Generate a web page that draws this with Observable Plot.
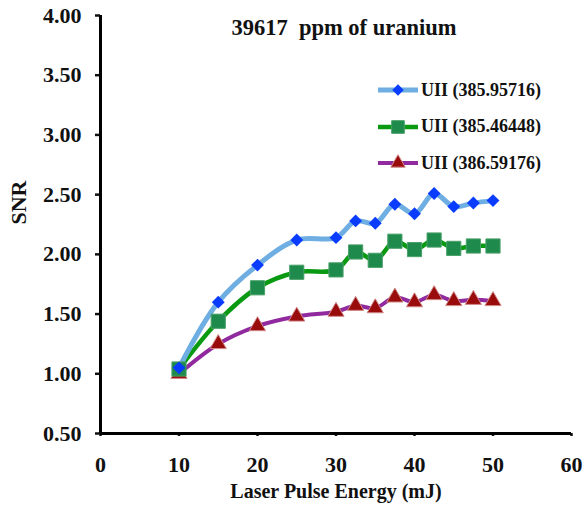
<!DOCTYPE html>
<html>
<head>
<meta charset="utf-8">
<script src="https://cdn.jsdelivr.net/npm/d3@7"></script>
<script src="https://cdn.jsdelivr.net/npm/@observablehq/plot@0.6"></script>
<style>
  html, body { margin: 0; padding: 0; background: #fff; }
  #wrap { position: relative; width: 584px; height: 513px; font-family: "Liberation Serif", "Times New Roman", serif; font-weight: bold; }
  #title { position: absolute; left: 0; width: 688px; top: 15px; text-align: center; font-size: 22.5px; white-space: pre; color: #111; }
  #legend { position: absolute; left: 377px; top: 72px; }
  .item { display: flex; align-items: center; height: 36.5px; font-size: 18px; color: #111; white-space: nowrap; }
  .item svg { margin-right: 2px; }
</style>
</head>
<body>
<div id="wrap">
  <div id="chart"></div>
  <div id="title"></div>
  <div id="legend"></div>
</div>
<script>
// ---- data ----
const titleText = "39617  ppm of uranium";
const energy = [10, 15, 20, 25, 30, 32.5, 35, 37.5, 40, 42.5, 45, 47.5, 50];
const seriesNames = ["UII (385.95716)", "UII (385.46448)", "UII (386.59176)"];
const snr385_95716 = [1.05, 1.60, 1.91, 2.12, 2.14, 2.28, 2.26, 2.42, 2.34, 2.51, 2.40, 2.43, 2.45];
const snr385_46448 = [1.04, 1.44, 1.72, 1.85, 1.87, 2.02, 1.95, 2.11, 2.04, 2.12, 2.05, 2.07, 2.07];
const snr386_59176 = [1.00, 1.25, 1.40, 1.48, 1.52, 1.57, 1.55, 1.64, 1.60, 1.66, 1.61, 1.62, 1.61];
const yTicks = [0.5, 1.0, 1.5, 2.0, 2.5, 3.0, 3.5, 4.0];
const xTicks = [0, 10, 20, 30, 40, 50, 60];
const xLabel = "Laser Pulse Energy (mJ)";
const yLabel = "SNR";

// ---- styles ----
const styles = [
  {line: "#6eaee2", lineW: 5, sym: "diamond2", fill: "#0a3cff", stroke: "none", r: 5.8},
  {line: "#0a9a12", lineW: 4.5, sym: "square", fill: "#1e8a4c", stroke: "#4aa06a", r: 8},
  {line: "#902a9e", lineW: 4, sym: "triangle", fill: "#9a0c0c", stroke: "#d08a8a", r: 6}
];
const values = [snr385_95716, snr385_46448, snr386_59176];

const rows = [];
values.forEach((vals, s) => vals.forEach((v, i) => rows.push({s, name: seriesNames[s], x: energy[i], y: v})));

const marks = [];
[2, 1, 0].forEach(s => {
  const st = styles[s];
  const d = rows.filter(r => r.s === s);
  marks.push(Plot.line(d, {x: "x", y: "y", stroke: st.line, strokeWidth: st.lineW, curve: "catmull-rom"}));
});
[2, 1, 0].forEach(s => {
  const st = styles[s];
  const d = rows.filter(r => r.s === s);
  marks.push(Plot.dot(d, {x: "x", y: "y", symbol: () => st.sym, fill: st.fill, stroke: st.stroke, strokeWidth: 1, r: st.r}));
});

const plot = Plot.plot({
  width: 584,
  height: 513,
  marginLeft: 100,
  marginRight: 13,
  marginTop: 15,
  marginBottom: 80,
  style: {fontFamily: "'Liberation Serif', 'Times New Roman', serif", fontWeight: "bold", fontSize: "22px", color: "#111", background: "#fff"},
  x: {domain: [0, 60]},
  y: {domain: [0.5, 4.0]},
  marks: [
    Plot.axisY({ticks: yTicks, tickFormat: d3.format(".2f"), tickSize: 5, tickPadding: 14, strokeWidth: 2.5, fontSize: 22, label: null}),
    Plot.axisX({ticks: xTicks, tickFormat: d3.format("d"), tickSize: 3, tickPadding: 20, strokeWidth: 2.5, fontSize: 22, label: null}),
    Plot.text([yLabel], {frameAnchor: "left", dx: -82, rotate: -90, fontSize: 22, fontWeight: "bold", fill: "#111"}),
    Plot.text([xLabel], {frameAnchor: "bottom", dy: 64, fontSize: 20, fontWeight: "bold", fill: "#111"}),
    ...marks,
    Plot.ruleX([0], {strokeWidth: 3, stroke: "#000"}),
    Plot.ruleY([0.5], {strokeWidth: 3, stroke: "#000"})
  ]
});
document.getElementById("chart").appendChild(plot);

document.getElementById("title").textContent = titleText;

const legend = document.getElementById("legend");
const symPath = {diamond2: d3.symbolDiamond2, square: d3.symbolSquare, triangle: d3.symbolTriangle};
seriesNames.forEach((name, s) => {
  const st = styles[s];
  const item = document.createElement("div");
  item.className = "item";
  const svg = d3.create("svg").attr("width", 42).attr("height", 20);
  svg.append("line").attr("x1", 1).attr("x2", 41).attr("y1", 10).attr("y2", 10)
    .attr("stroke", st.line).attr("stroke-width", st.lineW);
  svg.append("path").attr("transform", "translate(21,10)")
    .attr("d", d3.symbol(symPath[st.sym], Math.PI * st.r * st.r * 0.8)())
    .attr("fill", st.fill).attr("stroke", st.stroke);
  item.appendChild(svg.node());
  const span = document.createElement("span");
  span.textContent = name;
  item.appendChild(span);
  legend.appendChild(item);
});
</script>
</body>
</html>
